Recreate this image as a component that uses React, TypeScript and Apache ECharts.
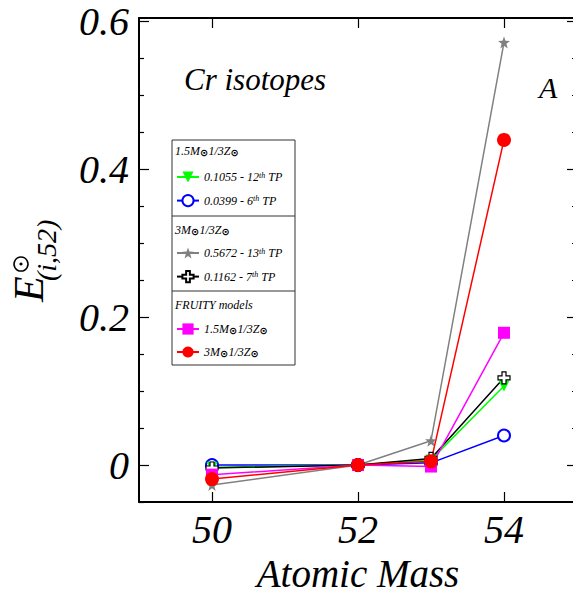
import React, { useEffect, useRef } from "react";
import * as echarts from "echarts";

// ---- data ----
const MASS = [50, 52, 53, 54];
const GRAY_13TP = [-0.027, 0, 0.033, 0.572];
const BLUE_6TP = [0.0, 0, 0.003, 0.04];
const GREEN_12TP = [-0.003, 0, 0.007, 0.107];
const BLACK_7TP = [-0.004, 0, 0.009, 0.118];
const MAGENTA_FRUITY15 = [-0.013, 0, -0.002, 0.179];
const RED_FRUITY3 = [-0.019, 0, 0.005, 0.44];

const X_TICKS = [50, 52, 54];
const Y_MAJOR = [0, 0.2, 0.4, 0.6];
const Y_MINOR = [-0.05, 0.05, 0.1, 0.15, 0.25, 0.3, 0.35, 0.45, 0.5, 0.55];

const NAME_G12 = "0.1055 - 12th TP";
const NAME_B6 = "0.0399 - 6th TP";
const NAME_S13 = "0.5672 - 13th TP";
const NAME_K7 = "0.1162 - 7th TP";
const NAME_F15 = "FRUITY 1.5M 1/3Z";
const NAME_F3 = "FRUITY 3M 1/3Z";

const LEGEND_RICH: Record<string, string> = {
  [NAME_G12]: "0.1055 - 12{sup|th} TP",
  [NAME_B6]: "0.0399 - 6{sup|th} TP",
  [NAME_S13]: "0.5672 - 13{sup|th} TP",
  [NAME_K7]: "0.1162 - 7{sup|th} TP",
  [NAME_F15]: "1.5M{sun|⊙}1/3Z{sun|⊙}",
  [NAME_F3]: "3M{sun|⊙}1/3Z{sun|⊙}",
};

const SERIF = "'Liberation Serif', 'DejaVu Serif', serif";
const STAR =
  "path://M0,-10 L2.35,-3.24 L9.51,-3.09 L3.8,1.24 L5.88,8.09 L0,4 L-5.88,8.09 L-3.8,1.24 L-9.51,-3.09 L-2.35,-3.24 Z";
const PLUS =
  "path://M-3,-9 L3,-9 L3,-3 L9,-3 L9,3 L3,3 L3,9 L-3,9 L-3,3 L-9,3 L-9,-3 L-3,-3 Z";

const pairs = (ys: number[]) => MASS.map((m, i) => [m, ys[i]]);

const richStyles = {
  sup: { fontSize: 8, fontStyle: "italic", fontFamily: SERIF, color: "#000", verticalAlign: "top", lineHeight: 12 },
  sun: { fontSize: 10, fontWeight: "bold", fontFamily: "DejaVu Sans", color: "#000", verticalAlign: "bottom", lineHeight: 12 },
};

const serifText = (size: number) => ({
  font: `italic ${size}px 'Liberation Serif', 'DejaVu Serif', serif`,
  fontFamily: SERIF,
  fontStyle: "italic",
  fontSize: size,
  fill: "#000",
});

export default function App() {
  const ref = useRef<HTMLDivElement>(null);

  useEffect(() => {
    if (!ref.current) return;
    const chart = echarts.init(ref.current, null, { renderer: "svg" });

    const mkLegend = (names: string[], top: number) => ({
      data: names,
      orient: "vertical",
      left: 176,
      top,
      padding: 0,
      itemWidth: 22,
      itemHeight: 14,
      itemGap: 11,
      selectedMode: false,
      formatter: (n: string) => LEGEND_RICH[n] || n,
      textStyle: {
        fontFamily: SERIF,
        fontStyle: "italic",
        fontSize: 12,
        color: "#000",
        rich: richStyles,
      },
    });

    const yBase = {
      type: "value",
      min: -0.05,
      max: 0.605,
      splitLine: { show: false },
    };
    const xBase = {
      type: "value",
      min: 49,
      max: 55,
      splitLine: { show: false },
    };

    const option: any = {
      animation: false,
      backgroundColor: "#fff",
      grid: {
        left: 139,
        top: 18,
        width: 438,
        height: 484,
        containLabel: false,
        outerBoundsMode: "none",
      },
      xAxis: [
        {
          ...xBase,
          position: "bottom",
          axisLine: { show: true, onZero: false, lineStyle: { color: "#000", width: 2 } },
          axisTick: { show: true, inside: true, length: 10, customValues: X_TICKS, lineStyle: { color: "#000", width: 1.2 } },
          axisLabel: {
            customValues: X_TICKS,
            fontFamily: SERIF,
            fontStyle: "italic",
            fontSize: 40,
            color: "#000",
            margin: 7,
          },
          name: "Atomic Mass",
          nameLocation: "middle",
          nameGap: 44,
          nameTextStyle: { fontFamily: SERIF, fontStyle: "italic", fontSize: 39, color: "#000" },
        },
        {
          ...xBase,
          position: "top",
          axisLine: { show: true, onZero: false, lineStyle: { color: "#000", width: 2 } },
          axisTick: { show: true, inside: true, length: 10, customValues: X_TICKS, lineStyle: { color: "#000", width: 1.2 } },
          axisLabel: { show: false },
        },
      ],
      yAxis: [
        {
          ...yBase,
          position: "left",
          axisLine: { show: true, onZero: false, lineStyle: { color: "#000", width: 2 } },
          axisTick: { show: true, inside: true, length: 10, customValues: Y_MAJOR, lineStyle: { color: "#000", width: 1.2 } },
          axisLabel: {
            customValues: Y_MAJOR,
            formatter: (v: number) => (Math.abs(v) < 1e-9 ? "0" : v.toFixed(1)),
            fontFamily: SERIF,
            fontStyle: "italic",
            fontSize: 40,
            color: "#000",
            margin: 10,
          },
        },
        {
          ...yBase,
          position: "left",
          axisLine: { show: false, onZero: false },
          axisTick: { show: true, inside: true, length: 5, customValues: Y_MINOR, lineStyle: { color: "#000", width: 1.2 } },
          axisLabel: { show: false },
        },
        {
          ...yBase,
          position: "right",
          axisLine: { show: true, onZero: false, lineStyle: { color: "#000", width: 2 } },
          axisTick: { show: true, inside: true, length: 10, customValues: Y_MAJOR, lineStyle: { color: "#000", width: 1.2 } },
          axisLabel: { show: false },
        },
        {
          ...yBase,
          position: "right",
          axisLine: { show: false, onZero: false },
          axisTick: { show: true, inside: true, length: 5, customValues: Y_MINOR, lineStyle: { color: "#000", width: 1.2 } },
          axisLabel: { show: false },
        },
      ],
      legend: [
        mkLegend([NAME_G12, NAME_B6], 171),
        mkLegend([NAME_S13, NAME_K7], 247),
        mkLegend([NAME_F15, NAME_F3], 323),
      ],
      series: [
        {
          name: NAME_S13,
          type: "line",
          data: pairs(GRAY_13TP),
          symbol: STAR,
          symbolSize: 12,
          itemStyle: { color: "#808080" },
          lineStyle: { color: "#808080", width: 1.5 },
        },
        {
          name: NAME_B6,
          type: "line",
          data: pairs(BLUE_6TP),
          symbol: "emptyCircle",
          symbolSize: 12,
          itemStyle: { color: "#0000ff", borderWidth: 1 },
          lineStyle: { color: "#0000ff", width: 1.5 },
        },
        {
          name: NAME_G12,
          type: "line",
          data: pairs(GREEN_12TP),
          symbol: "triangle",
          symbolRotate: 180,
          symbolSize: 11,
          itemStyle: { color: "#00ff00" },
          lineStyle: { color: "#00ff00", width: 1.5 },
        },
        {
          name: NAME_K7,
          type: "line",
          data: pairs(BLACK_7TP),
          symbol: PLUS,
          symbolSize: 12,
          itemStyle: { color: "#ffffff", borderColor: "#000000", borderWidth: 1.2 },
          lineStyle: { color: "#000000", width: 1.5 },
        },
        {
          name: NAME_F15,
          type: "line",
          data: pairs(MAGENTA_FRUITY15),
          symbol: "rect",
          symbolSize: 12,
          itemStyle: { color: "#ff00ff" },
          lineStyle: { color: "#ff00ff", width: 1.5 },
        },
        {
          name: NAME_F3,
          type: "line",
          data: pairs(RED_FRUITY3),
          symbol: "circle",
          symbolSize: 14,
          itemStyle: { color: "#ff0000" },
          lineStyle: { color: "#ff0000", width: 1.5 },
        },
      ],
      graphic: [
        {
          type: "rect",
          shape: { x: 172, y: 140, width: 123, height: 225 },
          style: { fill: "rgba(0,0,0,0)", stroke: "#333", lineWidth: 1 },
          z: 10,
        },
        {
          type: "line",
          shape: { x1: 172, y1: 216, x2: 295, y2: 216 },
          style: { stroke: "#333", lineWidth: 1 },
          z: 10,
        },
        {
          type: "line",
          shape: { x1: 172, y1: 291, x2: 295, y2: 291 },
          style: { stroke: "#333", lineWidth: 1 },
          z: 10,
        },
        {
          type: "text",
          x: 175,
          y: 151,
          style: {
            ...serifText(12),
            text: "1.5M{sun|⊙}1/3Z{sun|⊙}",
            verticalAlign: "middle",
            rich: richStyles,
          },
          z: 10,
        },
        {
          type: "text",
          x: 175,
          y: 230,
          style: {
            ...serifText(12),
            text: "3M{sun|⊙}1/3Z{sun|⊙}",
            verticalAlign: "middle",
            rich: richStyles,
          },
          z: 10,
        },
        {
          type: "text",
          x: 175,
          y: 305,
          style: { ...serifText(12), text: "FRUITY models", verticalAlign: "middle" },
          z: 10,
        },
        {
          type: "text",
          x: 184,
          y: 79,
          style: { ...serifText(31), text: "Cr isotopes", verticalAlign: "middle" },
        },
        {
          type: "text",
          x: 539,
          y: 87,
          style: { ...serifText(30), text: "A", verticalAlign: "middle" },
        },
        {
          type: "group",
          x: 44,
          y: 302,
          rotation: Math.PI / 2,
          children: [
            {
              type: "text",
              x: 0,
              y: 6,
              style: { ...serifText(42), text: "E", verticalAlign: "bottom" },
            },
            {
              type: "circle",
              shape: { cx: 38, cy: -23, r: 7 },
              style: { fill: "rgba(0,0,0,0)", stroke: "#000", lineWidth: 1.5 },
            },
            {
              type: "circle",
              shape: { cx: 38, cy: -23, r: 1.6 },
              style: { fill: "#000" },
            },
            {
              type: "text",
              x: 21,
              y: 16,
              style: { ...serifText(28), text: "(i,52)", verticalAlign: "bottom" },
            },
          ],
        },
      ],
    };

    chart.setOption(option);
    return () => chart.dispose();
  }, []);

  return (
    <div
      ref={ref}
      style={{ position: "fixed", left: 0, top: 0, width: 573, height: 595, background: "#fff" }}
    />
  );
}
